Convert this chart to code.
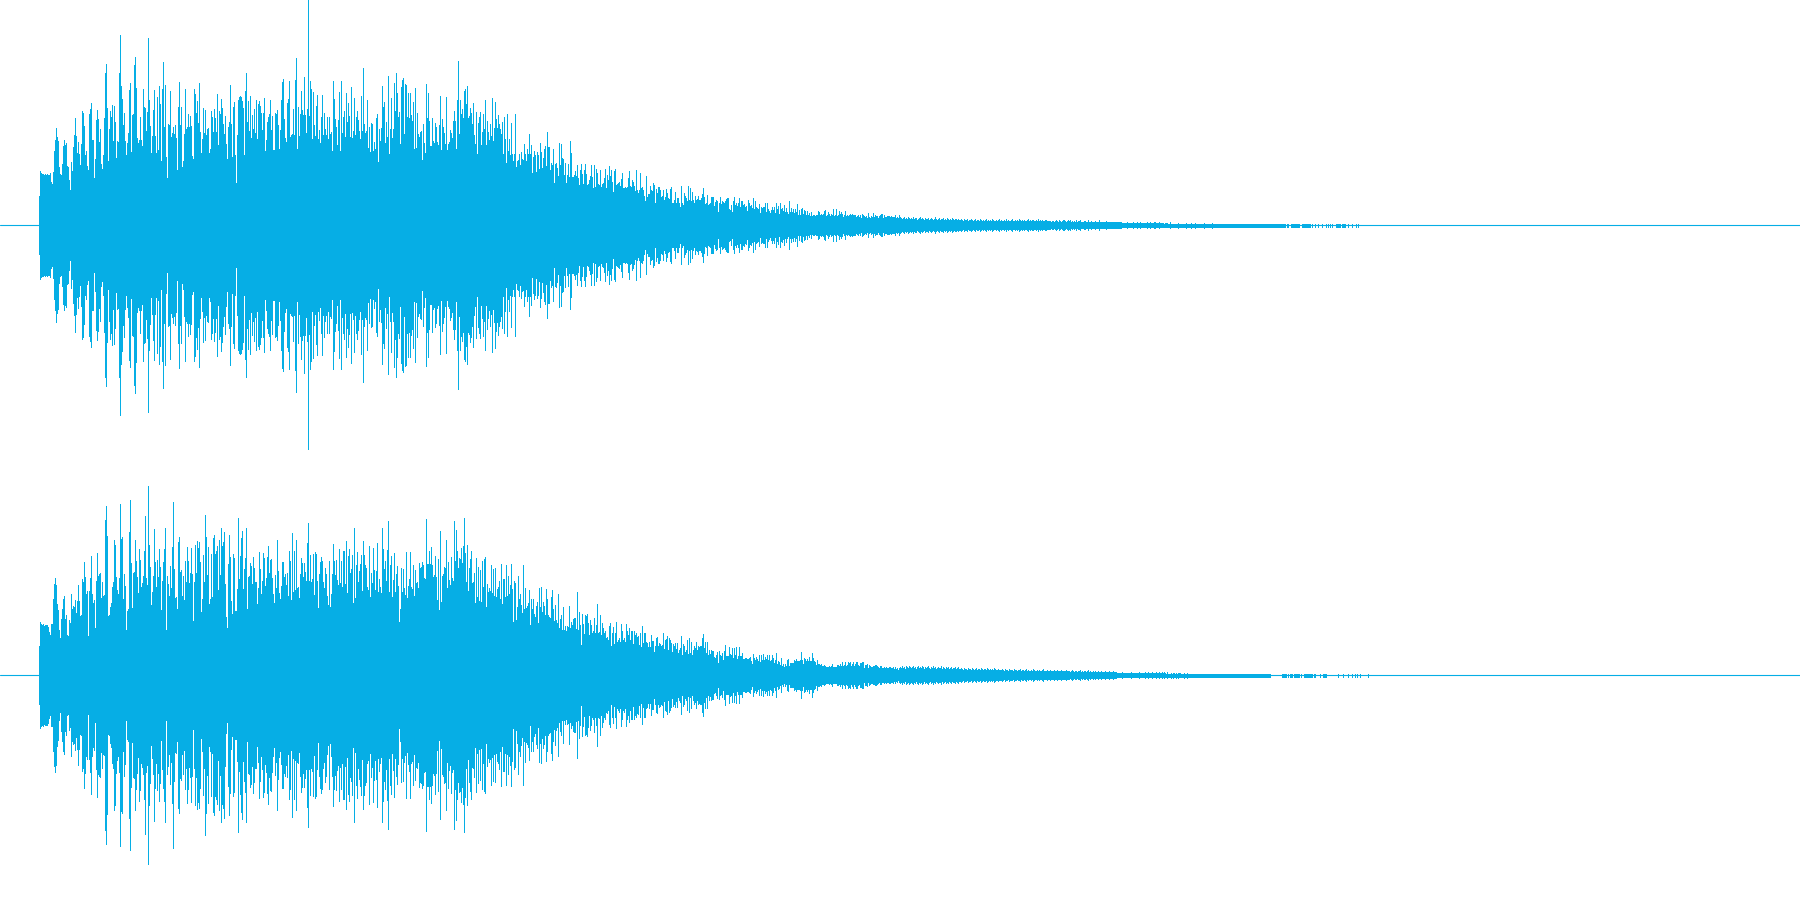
import numpy as np, pandas as pd, matplotlib
matplotlib.use("Agg")
import matplotlib.pyplot as plt, seaborn as sns

WAVE = "#06AEE5"
# peak amplitude per pixel column (symmetric about zero)
top_a = [29,54,52,51,51,50,51,50,51,50,50,52,43,41,53,74,85,97,88,84,58,51,50,61,79,85,80,82,59,58,45,35,63,54,78,90,107,89,72,83,71,60,81,114,112,99,70,74,59,55,111,116,122,85,85,47,66,105,115,106,83,96,61,56,70,107,152,161,117,64,96,114,108,120,84,119,103,67,84,83,152,190,139,126,100,112,84,70,82,92,135,142,73,110,111,160,168,137,87,82,85,108,85,79,136,118,117,94,113,187,125,99,72,89,115,135,89,72,128,75,139,121,64,136,163,98,140,68,47,101,100,134,88,92,98,91,100,87,55,118,143,100,118,58,64,91,136,96,98,111,98,109,99,69,66,136,131,112,124,102,142,93,72,86,117,92,115,90,96,97,72,76,114,108,93,116,107,93,131,80,114,111,126,117,101,91,109,81,66,98,103,140,101,68,118,123,70,42,90,125,128,129,128,124,117,70,134,152,103,124,94,129,87,110,96,116,92,125,86,121,124,119,112,95,112,127,74,85,103,108,111,125,95,109,75,75,112,111,115,100,76,95,125,143,146,106,87,83,122,126,144,88,90,91,116,90,145,167,76,118,89,111,134,115,110,148,110,92,116,225,109,144,136,86,133,100,89,119,130,86,95,82,108,130,90,112,96,90,108,86,108]
top_b = [91,93,74,144,126,106,98,80,105,133,74,144,92,108,114,88,132,103,122,109,88,138,87,94,127,90,108,114,105,94,86,129,94,157,101,92,94,125,77,98,73,102,101,74,83,76,107,111,63,96,84,97,139,118,123,82,103,88,149,71,96,127,87,96,142,114,152,132,108,113,81,138,145,147,91,141,140,108,132,107,132,110,104,123,76,137,77,112,91,88,93,94,65,101,82,72,141,107,132,104,79,79,107,84,82,102,98,83,80,100,129,75,106,98,92,81,128,75,81,83,95,92,87,104,114,104,76,125,164,91,125,111,116,107,134,136,121,139,107,109,117,112,101,122,90,81,113,71,102,108,113,80,93,111,96,125,80,104,93,85,101,89,127,84,97,123,106,97,110,101,96,91,103,71,108,86,62,111,74,86,70,102,71,64,71,111,58,64,65,71,60,73,66,65,81,71,64,76,71,91,71,80,52,68,74,70,53,73,70,56,82,73,57,67,76,79,59,93,78,78,55,62,60,76,42,61,62,57,49,82,60,81,67,66,50,62,42,50,61,48,84,72,48,48,50,54,49,60,47,40,55,61,51,41,55,61,51,40,41,45,49,60,48,37,60,38,56,52,41,40,55,38,41,42,47,56,37,50,45,59,49,55,43,33,54,56,40,41,42,43,39,46,52,37,37,38,37,38,47,54]
top_c = [39,38,45,43,39,34,55,35,32,35,52,37,38,35,29,24,49,28,31,31,39,35,34,42,40,22,36,32,38,38,35,28,29,35,25,28,36,32,27,26,36,38,22,22,25,33,22,27,27,22,18,39,22,20,32,29,27,24,39,25,37,24,33,25,22,29,25,26,29,25,25,27,31,37,28,21,22,30,20,21,22,28,28,28,19,23,25,24,13,22,28,21,24,23,22,24,26,27,27,16,15,20,13,24,28,20,22,19,22,27,18,24,24,20,21,18,19,14,25,22,19,20,17,27,16,24,18,17,16,21,12,18,17,18,18,22,13,22,16,14,12,15,18,15,18,12,22,16,19,11,22,16,17,14,20,13,17,13,11,24,13,17,13,16,12,16,13,21,10,15,10,16,17,11,15,14,10,14,10,12,9,13,9,10,10,9,10,10,14,13,10,11,10,11,14,15,9,10,13,11,9,11,10,16,9,10,16,9,10,14,11,13,11,8,10,14,9,10,9,10,11,10,11,10,10,10,8,9,10,8,10,7,11,10,9,8,9,7,12,8,7,9,8,12,8,10,9,9,7,9,10,11,11,7,10,8,8,9,9,9,8,9,8,8,8,10,7,8,7,10]
top_d = [8,7,6,7,8,6,7,6,8,7,6,7,6,8,6,7,7,5,6,7,8,6,7,6,5,7,6,6,7,5,6,7,6,5,6,8,6,5,6,7,5,6,6,7,5,6,5,7,6,5,6,5,7,6,5,6,6,5,6,5,5,6,5,4,6,5,5,6,4,5,5,6,5,4,5,6,4,5,5,4,6,5,4,5,4,5,6,4,5,4,5,4,6,5,4,4,5,4,5,6,4,5,4,4,5,4,6,4,5,4,4,5,6,4,4,5,4,5,4,6,5,4,5,4,5,4,4,5,6,4,5,4,5,5,4,4,5,4,6,4,5,4,5,4,4,5,5,4,4,4]
top_d += [4,3,4,4,3,4,5,4,3,5,4,3,4,5,5,4,3,4,5,4,5,3,4,3,4,3,5,3,4,4,5,3,3,3,4,4,3,3,5,3,3,4,3,3,3,4,3,3,3,5,3,3,3,3,3,3,4,3,3,3,3,3,3,3,3,3,3,3,3,3,3,3]
top_d += [2,2,2,2,2,3,2,2,2,2,2,3,2,2,2,3,2,2,3,2,2,2,2,2,2,3,2,2,3,2,2,2,3,3,2,2,2,3,2,2]
top_d += [2,2,1.5,2,2,2,1.5,1.5,3,1.5,1.5,1.5,1.5,1.5,1.5,1.5,2.5,1.5,1.5,1.5,1.5,1.5,1.5,1.5,2.5,1.5,1.5,1.5,1.5,2.5,1.5,1.5,1.5,2.5,1.5,1.5,1.5,1.5,1.5,1.5,1.5,1.5,2.5,1.5,1.5,1.5,1.5,1.5,1.5,1.5,2.5] + [1.5]*73
top_e_x = [1287,1288,1291,1292,1293,1294,1295,1296,1297,1298,1299,1302,1303,1304,1305,1306,1307,1308,1309,1310,1312,1315,1318,1322,1326,1328,1330,1332,1336,1337,1338,1339,1340,1342,1343,1344,1345,1348,1352,1356,1358]
top_e = [1.5]*41

bot_a = [29,53,51,50,51,49,50,50,50,48,43,40,51,51,76,91,97,90,71,65,45,37,56,66,76,79,56,60,40,39,55,52,81,66,69,68,75,62,74,90,74,59,60,96,93,113,98,81,84,39,84,97,119,81,72,75,47,94,122,99,101,102,77,93,79,80,155,169,139,59,60,68,72,88,93,135,130,98,85,81,97,171,136,138,76,101,89,45,64,66,143,175,112,67,102,103,135,114,98,82,126,115,88,92,99,124,159,97,90,189,130,108,70,83,99,146,113,88,115,98,126,108,65,94,113,126,147,45,99,91,79,109,87,128,173,106,77,78,66,133,138,103,105,79,99,75,114,93,128,114,92,102,127,101,54,93,130,102,134,127,133,113,63,76,120,93,160,138,100,128,71,76,121,78,137,140,121,124,129,85,135,100,147,129,133,143,91,58,47,111,140,118,74,61,121,117,64,64,86,157,96,119,137,144,86,106,117,147,66,98,99,112,109,91,118,107,93,93,71,87,123,106,81,94,122,117,89,97,118,129,102,115,116,97,81,72,100,87,135,104,82,76,89,113,113,98,101,90,102,79,124,114,75,142,83,124,85,135,87,88,77,101,117,112,98,112,103,94,132,152,94,120,93,96,121,80,123,121,94,67,101,113,118,114,93,87,107,101,79,70,114]
bot_b = [68,81,101,131,114,100,115,95,90,126,92,114,88,124,124,91,134,82,119,126,102,106,120,72,147,77,110,123,93,104,111,120,84,134,120,110,107,88,85,129,78,102,92,127,105,85,104,132,83,96,88,82,147,126,106,114,94,125,154,83,110,119,78,95,122,83,101,109,89,53,66,107,83,106,87,80,123,77,89,96,123,88,86,110,79,105,92,93,87,112,107,108,113,110,97,96,156,111,111,124,111,128,110,98,100,119,98,75,116,65,144,73,99,101,108,107,135,87,113,95,90,118,97,94,154,114,145,124,107,117,116,127,112,129,157,122,93,130,84,107,116,124,92,93,102,72,117,78,108,74,105,73,114,88,116,118,68,91,83,87,84,110,82,106,79,107,78,86,88,94,76,111,71,96,96,78,110,79,99,81,90,111,86,53,94,92,55,68,99,76,81,70,62,110,66,87,67,69,72,85,50,76,66,76,61,58,69,73,52,87,68,88,63,73,69,60,86,76,60,58,57,78,85,66,54,70,55,52,81,47,56,60,45,68,45,49,44,49,48,69,47,53,50,56,57,57,46,83,45,63,50,30,61,51,41,60,59,61,52,40,55,50,42,44,57,42,50,71,42,43,60,40,52,47,42,44,37,38,35,49,52,29,42,48,31,42,53,33,35,37,33,51,44,35,37,33,51,44,40,47]
bot_c = [35,44,44,31,44,40,42,38,39,30,42,28,49,32,42,42,33,32,28,33,28,40,34,34,23,29,37,38,29,32,31,29,30,42,26,35,36,39,25,37,35,32,23,31,29,32,26,32,22,25,27,39,20,31,29,23,25,35,21,37,22,33,20,25,29,27,33,25,29,28,29,29,37,41,27,33,22,33,20,25,21,25,24,24,18,17,20,23,12,24,20,19,22,15,24,30,19,19,19,28,21,20,27,17,27,20,28,16,19,28,19,19,22,16,16,17,17,16,16,17,18,14,11,21,17,15,18,16,14,20,13,20,15,21,15,18,16,20,15,20,14,15,20,17,12,15,22,11,14,13,10,17,9,11,8,11,9,15,16,9,12,12,12,12,15,14,16,14,14,14,15,23,15,11,17,16,14,16,14,18,14,14,22,17,14,13,10,15,11,11,10,11,9,9,10,9,8,8,8,9,8,9,11,8,8,8,8,10,10,9,11,9,13,9,10,13,9,10,13,12,13,9,11,13,9,11,13,13,10,9,12,12,13,13,7,10,10,11,7,10,9,8,8,9,9,10,10,9,8,7,9,9,7,7,8,7,8,7,7,8,8,7,7,8,6,8,6,7,5,7]
bot_d = [8,7,9,7,8,6,9,8,7,9,8,7,8,9,7,8,6,8,9,7,8,7,9,8,6,8,7,8,9,7,6,8,7,9,7,8,6,7,8,7,7,9,6,8,7,6,8,7,8,6,7,8,6,7,7,8,6,7,8,6,6,7,6,5,7,6,6,5,7,6,6,5,7,6,5,6,7,5,6,6,5,7,6,5,6,6,5,7,6,5,6,5,6,5,7,6,5,5,6,5,5,5,6,5,4,6,5,5,4,6,5,5,5,4,6,5,5,4,5,5,6,4,5,5,4,5,6,4,5,4,4,5,4,6,5,4,4,5,4,5,4,4,5,6,4,4,4,5,4,4,5,4,4,4,5,4,4,5,4,4,4,5,4,4,4,4,5,4,4,4,3,4,5,4,3,4,4,3,4,4,5,3,4,3,4,4,3,4,5,3,4,3,3,4,3,4,3,3,4,3,3,4,3,3,3,4,3,3,3,4,3,3,3,4,3,3,3]
bot_d += [2,2,2,2,2,3,2,2,2,2,2,2,2,2,3,2,2,2,2,2,2,2,3,2,2,2,2,2,3,2,2,3,2,2,2,3,2,2,2,3,2,2,3,2,2,3,2,3,2,1.5,3,1.5,1.5,1.5,2.5,1.5,2.5,2,1.5,2.5,1.5,2.5,2,2,1.5,1.5,1.5,2.5,1.5,1.5,2.5,1.5,1.5,1.5] + [1.5]*80
bot_e_x = [1282,1283,1284,1285,1286,1288,1290,1291,1292,1294,1295,1296,1297,1298,1299,1301,1304,1305,1306,1307,1308,1309,1310,1311,1312,1314,1315,1320,1323,1324,1325,1326,1338,1343,1348,1352,1355,1357,1360,1368]
bot_e = [1.5]*40

def table(segments):
    rows = []
    for x0, amps in segments:
        xs = x0 if isinstance(x0, list) else list(range(x0, x0 + len(amps)))
        for c, a in zip(xs, amps):
            rows += [(c + .25, -a, c), (c + .25, a, c)]
    return pd.DataFrame(rows, columns=["t", "amp", "col"])

sns.set_theme(style="white")
fig = plt.figure(figsize=(18, 9), dpi=100, facecolor="white")
channels = [
    ([0, .5, 1, .5], [(39, top_a), (330, top_b), (630, top_c), (900, top_d), (top_e_x, top_e)]),
    ([0, 0, 1, .5], [(39, bot_a), (330, bot_b), (630, bot_c), (900, bot_d), (bot_e_x, bot_e)]),
]
for rect, segs in channels:
    ax = fig.add_axes(rect)
    sns.lineplot(data=table(segs), x="t", y="amp", units="col", estimator=None, sort=False,
                 color=WAVE, lw=0.72, solid_capstyle="butt", antialiased=False, ax=ax, legend=False)
    sns.lineplot(x=[0, 1800], y=[0, 0], color=WAVE, lw=0.8, estimator=None, ax=ax, legend=False)
    ax.set_xlim(0, 1800)
    ax.set_ylim(-225, 225)
    ax.axis("off")
fig.savefig("out.png", dpi=100, facecolor="white")
